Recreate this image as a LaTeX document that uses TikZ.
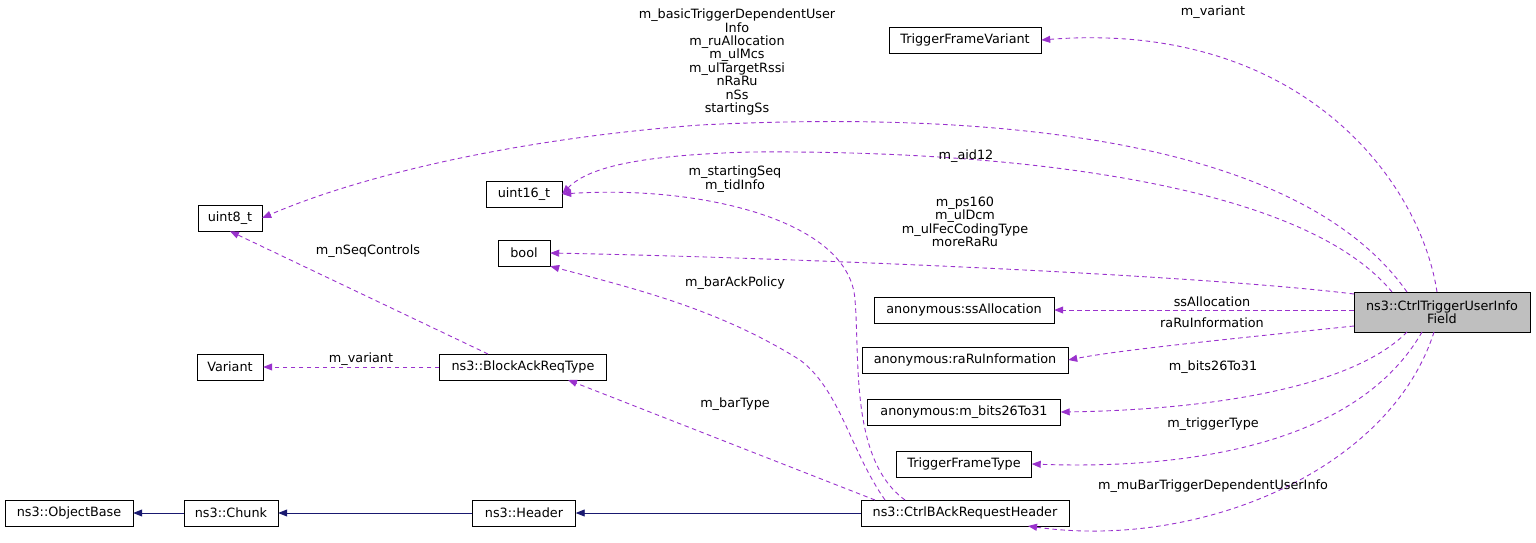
\documentclass[tikz,border=0pt]{standalone}
\usepackage{fontspec}
\setmainfont{DejaVu Sans}
\usetikzlibrary{arrows.meta}
\definecolor{pur}{HTML}{9A32CD}
\definecolor{nav}{HTML}{191970}
\begin{document}
\begin{tikzpicture}[x=1pt,y=-1pt,
 box/.style={draw=black,fill=white,inner sep=0pt,minimum height=26pt,font=\fontsize{12.8}{13.4}\selectfont,align=center},
 lab/.style={font=\fontsize{12.8}{13.4}\selectfont,align=center,inner sep=0pt},
 uses/.style={pur,line width=0.9pt,dash pattern=on 4.5pt off 3.5pt,-{Triangle[length=9pt,width=7pt]}},
 inh/.style={nav,line width=0.9pt,-{Triangle[length=9pt,width=7pt]}}]
\useasboundingbox (0,0) rectangle (1536,543);
\node[box,fill={rgb,255:red,191;green,191;blue,191},minimum width=176pt,minimum height=40pt] (main) at (1442,312) {ns3::CtrlTriggerUserInfo\\Field};
\node[box,minimum width=152pt] (tfv) at (965,40) {TriggerFrameVariant};
\node[box,minimum width=64pt] (u8) at (230,218) {uint8\_t};
\node[box,minimum width=76pt] (u16) at (524,194) {uint16\_t};
\node[box,minimum width=52pt] (bool) at (524,253) {bool};
\node[box,minimum width=180pt] (ss) at (964,310) {anonymous:ssAllocation};
\node[box,minimum width=206pt] (ra) at (965,360) {anonymous:raRuInformation};
\node[box,minimum width=193pt] (bits) at (964,412) {anonymous:m\_bits26To31};
\node[box,minimum width=135pt] (tft) at (964,464) {TriggerFrameType};
\node[box,minimum width=208pt] (bar) at (965,513) {ns3::CtrlBAckRequestHeader};
\node[box,minimum width=103pt] (hdr) at (524,513) {ns3::Header};
\node[box,minimum width=94pt] (chunk) at (231,513) {ns3::Chunk};
\node[box,minimum width=128pt] (ob) at (69,513) {ns3::ObjectBase};
\node[box,minimum width=66pt] (var) at (230,367) {Variant};
\node[box,minimum width=167pt] (bart) at (523,367) {ns3::BlockAckReqType};
\coordinate (barin) at (1028,526);
\coordinate (bartin) at (568,380);

\draw[inh] (bar) -- (hdr);
\draw[inh] (hdr) -- (chunk);
\draw[inh] (chunk) -- (ob);

\draw[uses] (1437,292) .. controls (1420,180) and (1300,20) .. (tfv.east);
\node[lab] (l1) at (1213,12) {m\_variant};
\draw[uses] (1407,292) .. controls (1300,140) and (1000,110) .. (700,125) .. controls (500,140) and (350,180) .. (u8.east);
\node[lab] (l2) at (737,62) {m\_basicTriggerDependentUser\\Info\\m\_ruAllocation\\m\_ulMcs\\m\_ulTargetRssi\\nRaRu\\nSs\\startingSs};
\draw[uses] (1392,292) .. controls (1300,180) and (1000,150) .. (750,152) .. controls (650,155) and (590,165) .. (u16.east);
\node[lab] (l3) at (966,156) {m\_aid12};
\draw[uses] (1354,294) .. controls (1200,275) and (800,258) .. (bool.east);
\node[lab] (l4) at (965,222) {m\_ps160\\m\_ulDcm\\m\_ulFecCodingType\\moreRaRu};
\draw[uses] (main.west |- ss.east) -- (ss.east);
\node[lab] (l5) at (1212,302) {ssAllocation};
\draw[uses] (1354,326) .. controls (1220,340) and (1120,350) .. (ra.east);
\node[lab] (l6) at (1212,323) {raRuInformation};
\draw[uses] (1407,332) .. controls (1350,390) and (1200,410) .. (bits.east);
\node[lab] (l7) at (1213,367) {m\_bits26To31};
\draw[uses] (1422,332) .. controls (1360,440) and (1200,470) .. (tft.east);
\node[lab] (l8) at (1213,424) {m\_triggerType};
\draw[uses] (1434,332) .. controls (1390,470) and (1200,550) .. (barin);
\node[lab] (l9) at (1213,486) {m\_muBarTriggerDependentUserInfo};
\draw[uses] (905,500) .. controls (850,460) and (860,360) .. (855,300) .. controls (850,220) and (700,185) .. (u16.east);
\node[lab] (l10) at (735,179) {m\_startingSeq\\m\_tidInfo};
\draw[uses] (885,500) .. controls (850,450) and (840,390) .. (800,360) .. controls (720,310) and (640,290) .. (bool.south east);
\node[lab] (l11) at (735,283) {m\_barAckPolicy};
\draw[uses] (875,500) -- (bartin);
\node[lab] (l12) at (735,404) {m\_barType};
\draw[uses] (488,354) -- (u8.south);
\node[lab] (l13) at (368,251) {m\_nSeqControls};
\draw[uses] (bart.west) -- (var.east);
\node[lab] (l14) at (361,359) {m\_variant};
\end{tikzpicture}
\end{document}
